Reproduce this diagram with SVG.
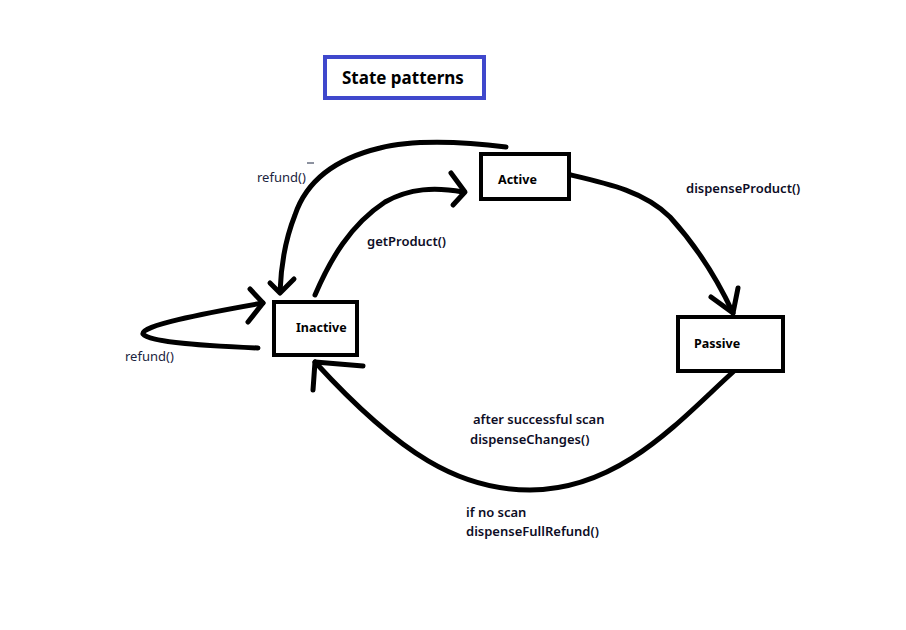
<svg xmlns="http://www.w3.org/2000/svg" width="906" height="630" viewBox="0 0 906 630">
<style>
.box{fill:#fff;stroke:#000;stroke-width:4}
.node{font-family:"Noto Sans","Open Sans",sans-serif;font-weight:700;font-size:12.5px;fill:#000}
.lbl{font-family:"Noto Sans","Open Sans",sans-serif;font-weight:600;font-size:13px;fill:#0d0d26}
.lblr{font-family:"Noto Sans","Open Sans",sans-serif;font-weight:400;font-size:13px;fill:#1b2440}
.edge{fill:none;stroke:#000;stroke-width:5;stroke-linecap:round;stroke-linejoin:round}
</style>
<rect width="906" height="630" fill="#fff"/>
<g id="title">
<rect x="325" y="57" width="159" height="41" fill="#fff" stroke="#3f48cc" stroke-width="4"/>
<text x="342" y="84" font-family="Noto Sans, Open Sans, sans-serif" font-weight="700" font-size="17">State patterns</text>
</g>
<g id="connectors">
<path class="edge" d="M506,147 C460,141 410,140 380,148 C330,160 305,185 295,215 C285,240 281,265 280,292"/>
<path class="edge" d="M270,283 L280,293 L294,279"/>
<path class="edge" d="M315,295 C330,260 350,225 385,202 C410,188 435,187 463,192"/>
<path class="edge" d="M451,173 L465,192 L453,205"/>
<path class="edge" d="M258,348 C210,346 150,343 143,334 C140,326 200,314 263,303"/>
<path class="edge" d="M250,289 L263,303 L248,322"/>
<path class="edge" d="M571,175 C610,184 645,192 670,217 C700,250 720,285 733,313"/>
<path class="edge" d="M711,297 L733,313 L738,288"/>
<path class="edge" d="M733,372 C680,420 620,490 530,490 C460,490 400,455 315,362"/>
<path class="edge" d="M363,366 L315,362 L313,390"/>
<line x1="307" y1="163" x2="314" y2="163" stroke="#1b2440" stroke-width="1"/>
</g>
<g id="active">
<rect class="box" x="481" y="154" width="88" height="45"/>
<text class="node" x="498" y="184">Active</text>
</g>
<g id="inactive">
<rect class="box" x="274" y="302" width="83" height="53"/>
<text class="node" x="296" y="332">Inactive</text>
</g>
<g id="passive">
<rect class="box" x="678" y="317" width="105" height="54"/>
<text class="node" x="694" y="348">Passive</text>
</g>
<g id="labels">
<text class="lblr" x="257" y="182">refund()</text>
<text class="lbl" x="367" y="246">getProduct()</text>
<text class="lbl" x="686" y="193">dispenseProduct()</text>
<text class="lblr" x="125" y="361">refund()</text>
<text class="lbl" x="473" y="424">after successful scan</text>
<text class="lbl" x="470" y="444">dispenseChanges()</text>
<text class="lbl" x="466" y="517">if no scan</text>
<text class="lbl" x="466" y="536">dispenseFullRefund()</text>
</g>
</svg>
